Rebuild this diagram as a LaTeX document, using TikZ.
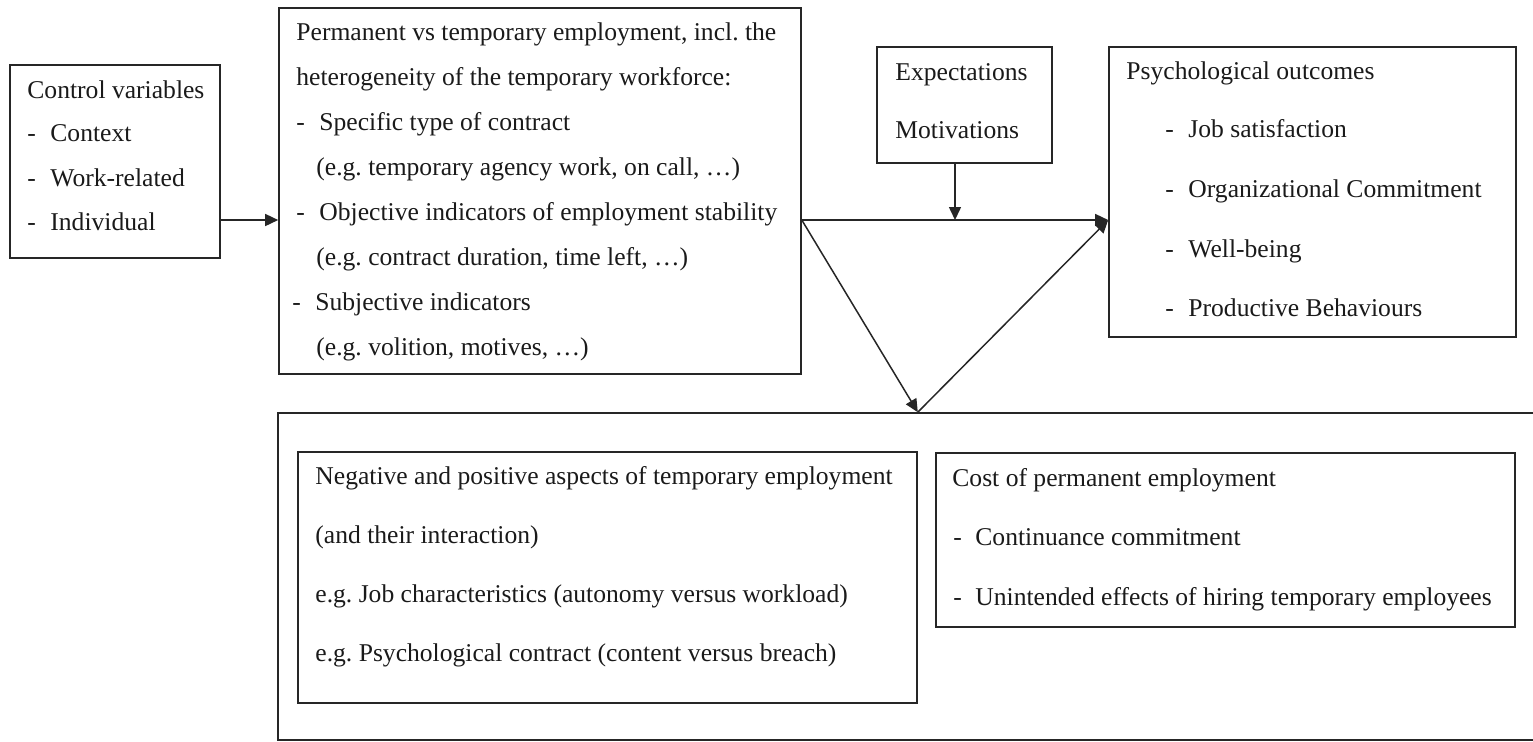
\documentclass[tikz,border=0pt]{standalone}
\usepackage{fontspec}
\setmainfont{Liberation Serif}
\usetikzlibrary{arrows.meta,fit}
\definecolor{linec}{HTML}{262626}
\definecolor{textc}{HTML}{1A1A1A}
\newcommand\dsh[1]{\makebox[#1][l]{-}}
\frenchspacing
\begin{document}
\begin{tikzpicture}[x=0.5pt,y=-0.5pt,
  box/.style={draw=linec, line width=0.8pt, inner sep=0pt, fit={#1}},
  txt/.style={anchor=base west, inner sep=0pt, text=textc, font=\fontsize{12.8}{15}\selectfont\frenchspacing},
  arr/.style={draw=linec, line width=0.75pt, -{Triangle[length=6.5pt,width=6pt]}},
  ln/.style={draw=linec, line width=0.75pt}]
\useasboundingbox (0,0) rectangle (1533,741);

% boxes
\node[box={(10,65) (220,258)}] (ctrl) {};
\node[box={(279,8) (801,374)}] (perm) {};
\node[box={(877,47) (1052,163)}] (expb) {};
\node[box={(1109,47) (1516,337)}] (psy) {};
\node[box={(278,413) (1560,740)}] (big) {};
\node[box={(298,452) (917,703)}] (neg) {};
\node[box={(936,453) (1515,627)}] (cost) {};

% control variables
\node[txt] (c0) at (27,98) {Control variables};
\node[txt] (c1) at (27,141) {\dsh{11.5pt}Context};
\node[txt] (c2) at (27,186) {\dsh{11.5pt}Work-related};
\node[txt] (c3) at (27,230) {\dsh{11.5pt}Individual};

% permanent vs temporary
\node[txt] (p0) at (296,40) {Permanent vs temporary employment, incl. the};
\node[txt] (p1) at (296,85) {heterogeneity of the temporary workforce:};
\node[txt] (p2) at (296,130) {\dsh{11.5pt}Specific type of contract};
\node[txt] (p3) at (316,175) {(e.g. temporary agency work, on call, \dots)};
\node[txt] (p4) at (296,220) {\dsh{11.5pt}Objective indicators of employment stability};
\node[txt] (p5) at (316,265) {(e.g. contract duration, time left, \dots)};
\node[txt] (p6) at (292,310) {\dsh{11.5pt}Subjective indicators};
\node[txt] (p7) at (316,355) {(e.g. volition, motives, \dots)};

% expectations
\node[txt] (e0) at (895,80) {Expectations};
\node[txt] (e1) at (895,138) {Motivations};

% psychological outcomes
\node[txt] (o0) at (1126,79) {Psychological outcomes};
\node[txt] (o1) at (1165,137) {\dsh{11.5pt}Job satisfaction};
\node[txt] (o2) at (1165,197) {\dsh{11.5pt}Organizational Commitment};
\node[txt] (o3) at (1165,257) {\dsh{11.5pt}Well-being};
\node[txt] (o4) at (1165,316) {\dsh{11.5pt}Productive Behaviours};

% negative and positive aspects
\node[txt] (n0) at (315,484) {Negative and positive aspects of temporary employment};
\node[txt] (n1) at (315,543) {(and their interaction)};
\node[txt] (n2) at (315,602) {e.g. Job characteristics (autonomy versus workload)};
\node[txt] (n3) at (315,661) {e.g. Psychological contract (content versus breach)};

% cost of permanent employment
\node[txt] (k0) at (952,486) {Cost of permanent employment};
\node[txt] (k1) at (953,545) {\dsh{11pt}Continuance commitment};
\node[txt] (k2) at (953,605) {\dsh{11pt}Unintended effects of hiring temporary employees};

% connectors
\coordinate (lvl) at (0,220);
\coordinate (apex) at (neg.north east |- big.north);
\coordinate (expx) at (955,0);
\draw[arr] (ctrl.east |- lvl) -- (perm.west |- lvl);
\draw[arr] (perm.east |- lvl) -- (psy.west |- lvl);
\draw[arr] (expb.south -| expx) -- (lvl -| expx);
\draw[arr] (perm.east |- lvl) -- (apex);
\draw[arr] (apex) -- (psy.west |- lvl);
\end{tikzpicture}
\end{document}
